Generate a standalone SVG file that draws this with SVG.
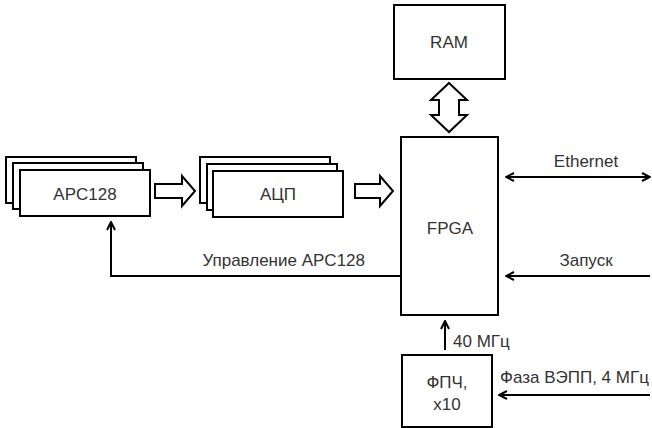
<svg xmlns="http://www.w3.org/2000/svg" width="652" height="428" viewBox="0 0 652 428">
  <style>
    .box { fill: #fff; stroke: #000; stroke-width: 2; }
    .bus { fill: #fff; stroke: #000; stroke-width: 2; stroke-linejoin: miter; }
    .wire { fill: none; stroke: #000; stroke-width: 2; }
    text { font-family: "Liberation Sans", Arial, sans-serif; font-size: 17px; fill: #333; }
    .c { text-anchor: middle; }
  </style>
  <defs>
    <marker id="ah" viewBox="0 0 10 10" refX="9" refY="5" markerWidth="5" markerHeight="5" orient="auto-start-reverse" markerUnits="strokeWidth">
      <path d="M1,1 L9,5 L1,9" fill="none" stroke="#000" stroke-width="2"/>
    </marker>
  </defs>
  <rect width="652" height="428" fill="#fff"/>

  <g id="apc128">
    <rect class="box" x="6" y="157" width="130" height="46"/>
    <rect class="box" x="13" y="163" width="130" height="46"/>
    <rect class="box" x="20" y="170" width="130" height="46"/>
    <text class="c" x="85" y="200">APC128</text>
  </g>

  <g id="adc">
    <rect class="box" x="200" y="157" width="130" height="46"/>
    <rect class="box" x="207" y="164" width="130" height="46"/>
    <rect class="box" x="213" y="171" width="130" height="46"/>
    <text class="c" x="278" y="200">АЦП</text>
  </g>

  <g id="ram">
    <rect class="box" x="394" y="5" width="111" height="74"/>
    <text class="c" x="449" y="48">RAM</text>
  </g>

  <g id="fpga">
    <rect class="box" x="401" y="137" width="97" height="178"/>
    <text class="c" x="450" y="234">FPGA</text>
  </g>

  <g id="pll">
    <rect class="box" x="402" y="355" width="90" height="72"/>
    <text class="c" x="447" y="388">ФПЧ,</text>
    <text class="c" x="447" y="410">x10</text>
  </g>

  <g id="connectors">
    <!-- wide bus arrows -->
    <path class="bus" d="M155,184 H182 V176 L195,191 L182,206 V198 H155 Z"/>
    <path class="bus" d="M355,184 H380 V176 L393,191 L380,206 V198 H355 Z"/>
    <path class="bus" d="M449,83 L467,100 H459 V115 H467 L449,132 L431,115 H439 V100 H431 Z"/>

    <!-- signal lines -->
    <line class="wire" x1="506" y1="177" x2="650" y2="177" marker-start="url(#ah)" marker-end="url(#ah)"/>
    <text class="c" x="586" y="167">Ethernet</text>

    <line class="wire" x1="650" y1="276" x2="506" y2="276" marker-end="url(#ah)"/>
    <text class="c" x="586" y="266">Запуск</text>

    <polyline class="wire" points="401,276 111,276 111,222" marker-end="url(#ah)"/>
    <text x="365" y="266" text-anchor="end">Управление APC128</text>

    <line class="wire" x1="445" y1="350" x2="445" y2="321" marker-end="url(#ah)"/>
    <text x="453" y="347">40 МГц</text>

    <line class="wire" x1="650" y1="395" x2="499" y2="395" marker-end="url(#ah)"/>
    <text x="500" y="383">Фаза ВЭПП, 4 МГц</text>
  </g>
</svg>
